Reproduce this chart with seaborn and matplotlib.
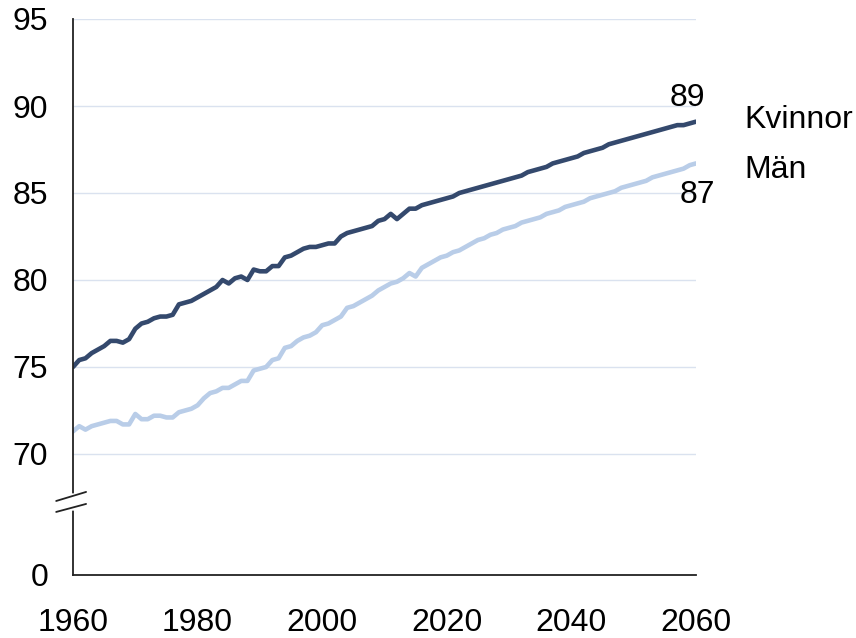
import numpy as np
import pandas as pd
import matplotlib
matplotlib.use("Agg")
import matplotlib.pyplot as plt
import matplotlib.transforms as mtransforms
import seaborn as sns

# data: life expectancy at birth, 1960-2060 (outcome + projection)
years = list(range(1960, 2061))

kvinnor = [
    75.0, 75.4, 75.5, 75.8, 76.0, 76.2, 76.5, 76.5, 76.4, 76.6,
    77.2, 77.5, 77.6, 77.8, 77.9, 77.9, 78.0, 78.6, 78.7, 78.8,
    79.0, 79.2, 79.4, 79.6, 80.0, 79.8, 80.1, 80.2, 80.0, 80.6,
    80.5, 80.5, 80.8, 80.8, 81.3, 81.4, 81.6, 81.8, 81.9, 81.9,
    82.0, 82.1, 82.1, 82.5, 82.7, 82.8, 82.9, 83.0, 83.1, 83.4,
    83.5, 83.8, 83.5, 83.8, 84.1, 84.1, 84.3, 84.4, 84.5, 84.6,
    84.7, 84.8, 85.0, 85.1, 85.2, 85.3, 85.4, 85.5, 85.6, 85.7,
    85.8, 85.9, 86.0, 86.2, 86.3, 86.4, 86.5, 86.7, 86.8, 86.9,
    87.0, 87.1, 87.3, 87.4, 87.5, 87.6, 87.8, 87.9, 88.0, 88.1,
    88.2, 88.3, 88.4, 88.5, 88.6, 88.7, 88.8, 88.9, 88.9, 89.0,
    89.1,
]

man = [
    71.3, 71.6, 71.4, 71.6, 71.7, 71.8, 71.9, 71.9, 71.7, 71.7,
    72.3, 72.0, 72.0, 72.2, 72.2, 72.1, 72.1, 72.4, 72.5, 72.6,
    72.8, 73.2, 73.5, 73.6, 73.8, 73.8, 74.0, 74.2, 74.2, 74.8,
    74.9, 75.0, 75.4, 75.5, 76.1, 76.2, 76.5, 76.7, 76.8, 77.0,
    77.4, 77.5, 77.7, 77.9, 78.4, 78.5, 78.7, 78.9, 79.1, 79.4,
    79.6, 79.8, 79.9, 80.1, 80.4, 80.2, 80.7, 80.9, 81.1, 81.3,
    81.4, 81.6, 81.7, 81.9, 82.1, 82.3, 82.4, 82.6, 82.7, 82.9,
    83.0, 83.1, 83.3, 83.4, 83.5, 83.6, 83.8, 83.9, 84.0, 84.2,
    84.3, 84.4, 84.5, 84.7, 84.8, 84.9, 85.0, 85.1, 85.3, 85.4,
    85.5, 85.6, 85.7, 85.9, 86.0, 86.1, 86.2, 86.3, 86.4, 86.6,
    86.7,
]

series_names = ["Kvinnor", "Män"]
end_labels = ["89", "87"]
y_ticks = [70, 75, 80, 85, 90, 95]
x_ticks = [1960, 1980, 2000, 2020, 2040, 2060]

df = pd.DataFrame({
    "År": years * 2,
    "Livslängd": kvinnor + man,
    "Kön": ["Kvinnor"] * len(years) + ["Män"] * len(years),
})

sns.set_style("white")
plt.rcParams["font.family"] = ["Liberation Sans", "DejaVu Sans"]
plt.rcParams["text.color"] = "black"

DARK = "#34496d"
LIGHT = "#b9cde8"
FS = 23

fig = plt.figure(figsize=(8.56, 6.38), dpi=100)
ax = fig.add_axes([73 / 856, 63 / 638, 623 / 856, 556 / 638])

# the "0" sits below a broken axis, just under 70
zero_pos = 70 - 121 / 17.4

for v in y_ticks:
    ax.axhline(v, color="#dae2ef", lw=1.0, zorder=0)

sns.lineplot(data=df, x="År", y="Livslängd", hue="Kön",
             palette={"Kvinnor": DARK, "Män": LIGHT},
             linewidth=3.3, ax=ax, legend=False)

ax.set_xlim(1960, 2060)
ax.set_ylim(zero_pos, 95)
ax.set_xticks(x_ticks)
ax.set_xticklabels([str(x) for x in x_ticks])
ax.set_yticks([zero_pos] + y_ticks)
ax.set_yticklabels(["0"] + [str(v) for v in y_ticks])
ax.set_xlabel("")
ax.set_ylabel("")

ax.tick_params(axis="both", labelsize=FS, colors="black", length=8,
               width=1.3, direction="out")
ax.tick_params(axis="y", pad=10)
ax.tick_params(axis="x", pad=16)

for s in ["top", "right"]:
    ax.spines[s].set_visible(False)
for s in ["left", "bottom"]:
    ax.spines[s].set_color("#222222")
    ax.spines[s].set_linewidth(1.3)

# axis break marks
tr = mtransforms.blended_transform_factory(ax.transAxes, ax.transData)
ax.plot([0, 0], [66.9, 67.6], transform=tr, color="white", lw=4,
        clip_on=False, zorder=5)
ax.plot([-0.027, 0.021], [67.30, 67.82], transform=tr, color="#222222",
        lw=1.3, clip_on=False, zorder=6)
ax.plot([-0.027, 0.021], [66.67, 67.13], transform=tr, color="#222222",
        lw=1.3, clip_on=False, zorder=6)

# end labels
ends = [kvinnor[-1], man[-1]]
ax.annotate(end_labels[0], xy=(years[-1], ends[0]), xytext=(-6, 17),
            textcoords="offset points", ha="center", va="center",
            fontsize=FS, annotation_clip=False)
ax.annotate(end_labels[1], xy=(years[-1], ends[1]), xytext=(1, -23),
            textcoords="offset points", ha="center", va="center",
            fontsize=FS, annotation_clip=False)
ax.annotate(series_names[0], xy=(years[-1], ends[0]), xytext=(35, 1),
            textcoords="offset points", ha="left", va="center",
            fontsize=FS, annotation_clip=False)
ax.annotate(series_names[1], xy=(years[-1], ends[1]), xytext=(35, -5),
            textcoords="offset points", ha="left", va="center",
            fontsize=FS, annotation_clip=False)

fig.savefig("out.png", dpi=100)
